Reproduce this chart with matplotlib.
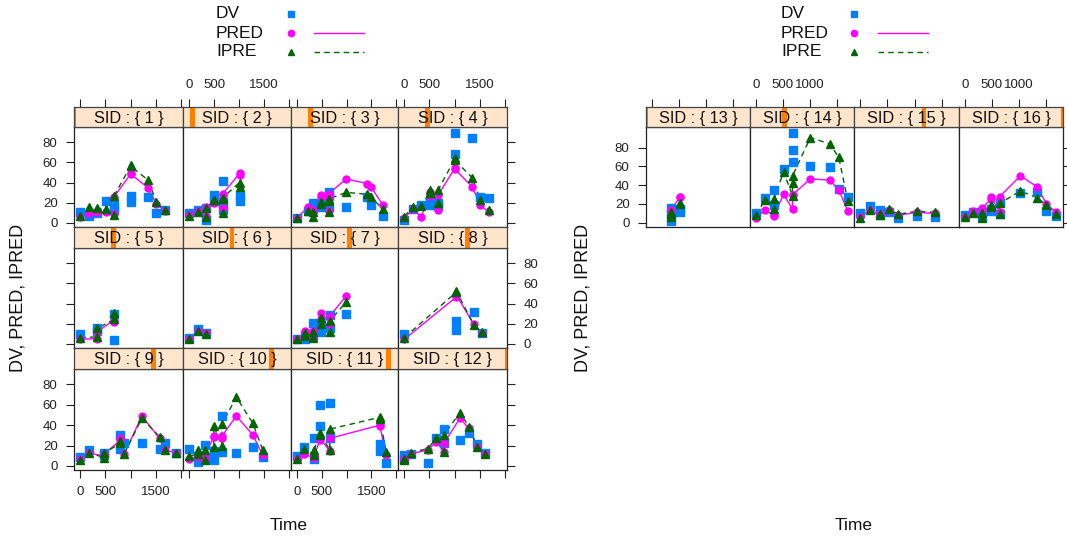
import matplotlib
matplotlib.use("Agg")
import matplotlib.pyplot as plt
from matplotlib.patches import Rectangle

plt.rcParams['font.family'] = ['Liberation Sans', 'DejaVu Sans']

W, H = 1067, 537

# ---------------- data (long format, one row per observation) ----------------
SID = [
    1, 1, 1, 1, 1, 1, 1, 1, 1, 1, 1,
    2, 2, 2, 2, 2, 2, 2, 2, 2, 2, 2,
    3, 3, 3, 3, 3, 3, 3, 3, 3, 3, 3, 3, 3,
    4, 4, 4, 4, 4, 4, 4, 4, 4, 4, 4, 4,
    5, 5, 5, 5, 5,
    6, 6, 6,
    7, 7, 7, 7, 7, 7, 7, 7, 7, 7,
    8, 8, 8, 8, 8,
    9, 9, 9, 9, 9, 9, 9, 9, 9, 9, 9,
    10, 10, 10, 10, 10, 10, 10, 10, 10, 10, 10, 10,
    11, 11, 11, 11, 11, 11, 11, 11, 11, 11, 11,
    12, 12, 12, 12, 12, 12, 12, 12, 12, 12, 12,
    13, 13, 13, 13, 13,
    14, 14, 14, 14, 14, 14, 14, 14, 14, 14, 14, 14,
    15, 15, 15, 15, 15, 15, 15, 15,
    16, 16, 16, 16, 16, 16, 16, 16, 16, 16, 16, 16,
]
TIME = [
    0, 168, 336, 504, 672, 672, 1008, 1008, 1344, 1512, 1680,
    0, 168, 336, 336, 504, 504, 672, 672, 672, 1008, 1008,
    0, 227, 326, 326, 492, 492, 637, 637, 637, 990, 1422, 1488, 1733,
    0, 168, 336, 504, 504, 672, 672, 1008, 1008, 1344, 1512, 1680,
    0, 336, 336, 672, 672,
    0, 168, 336,
    0, 160, 160, 326, 326, 492, 492, 660, 660, 990,
    0, 1036, 1036, 1383, 1548,
    0, 168, 480, 480, 790, 790, 870, 1223, 1574, 1687, 1900,
    0, 167, 167, 313, 313, 492, 492, 657, 657, 944, 1275, 1474,
    0, 139, 339, 339, 458, 458, 657, 657, 1673, 1673, 1800,
    0, 0, 133, 466, 637, 785, 785, 1104, 1283, 1448, 1594,
    357, 357, 357, 512, 512,
    0, 172, 339, 339, 512, 678, 678, 678, 1006, 1363, 1530, 1697,
    0, 178, 363, 363, 530, 703, 1043, 1376,
    0, 160, 326, 326, 481, 481, 641, 641, 1024, 1333, 1505, 1685,
]
DV = [
    10.5, 6.6, 9.5, 21.7, 18, 13, 27, 21, 25.4, 10, 12.8,
    9.5, 12.8, 14.5, 3, 27.7, 22, 13, 21, 42, 27, 22,
    5.3, 12, 19.4, 14, 16, 19, 16, 27, 31, 16, 26, 17.8, 7.2,
    3, 13.8, 17.8, 20, 18, 17, 20, 89.5, 67.8, 84.3, 26, 25,
    9.5, 15.5, 13, 3.6, 29.3,
    6, 14.5, 10.5,
    4.6, 5.3, 9, 8, 21, 12, 19, 16, 28.3, 29.3,
    9.5, 23, 14, 31.6, 10.5,
    8.9, 15.5, 12.8, 11, 17, 30, 22.7, 22.7, 17, 22, 12.8,
    17, 10, 4, 8, 20.4, 6, 15, 13.8, 49, 12.8, 18.8, 8.9,
    9.5, 18.8, 6.3, 27, 39.5, 60, 27, 61.6, 21, 15, 3,
    10.5, 7, 12, 3, 27, 22, 36, 25.4, 32, 21, 12.8,
    1.8, 9, 15.3, 11, 15,
    10, 26.7, 19, 35, 57, 65, 77, 96, 60.8, 59.7, 35.6, 27.7,
    10, 18, 8, 13.5, 11, 5.3, 7.5, 6.4,
    8.2, 11, 6, 11, 12.4, 15, 9, 20.6, 31.3, 33, 12.4, 7.5,
]
PRED = [
    5.6, 10, 11, 10.5, 8.5, 26, 49, 48, 35, 18.8, 11.9,
    8, 12, 7, 16, 20, 21, 14.5, 28, 29, 49, 47,
    5.3, 16, 11, 12.8, 26, 28, 12, 26, 29, 43.5, 39, 36, 17.8,
    4.6, 13.8, 6.3, 27, 31, 12.8, 27.7, 54.6, 53, 36, 17.8, 10.5,
    4.6, 5.3, 12, 24, 21.7,
    5, 12.8, 10.5,
    4.6, 10, 12.8, 7.9, 12.8, 25, 31, 20, 27.7, 47.4,
    4.6, 46.7, 48, 19.4, 10.5,
    6.3, 12.8, 9.5, 12, 25, 27, 11.5, 49, 27, 15.5, 12.8,
    7, 9, 11, 5.6, 11, 28, 29.3, 27, 29.3, 49, 30.3, 10.5,
    7.2, 11.5, 8, 9.5, 25, 27, 14.8, 27, 40, 39, 10.5,
    6.3, 6, 12, 15.5, 23.7, 13.8, 22, 46.7, 36.8, 18.8, 12,
    8, 10, 13.5, 27, 27.7,
    5.3, 13.5, 7.5, 8, 30.2, 14.6, 29.5, 30, 46.6, 45.5, 34.8, 12.4,
    6, 13.5, 9, 9.5, 14, 8.2, 11, 10,
    6.4, 12.4, 12, 16, 25, 27.7, 12, 27.7, 50, 38.4, 20, 11,
]
IPRE = [
    7.2, 16, 15, 13.5, 8, 27, 57, 56, 42.5, 21, 12.8,
    7.2, 11, 6, 14.5, 22.4, 23, 9.5, 24, 25, 40, 36,
    4.6, 12, 6.3, 10.5, 19, 21, 10.5, 22, 23.7, 30.3, 28.3, 26, 13.8,
    6.3, 16, 17, 30, 32.6, 19.4, 32.6, 63.9, 62, 45, 22.7, 12.8,
    6.3, 7, 15.5, 24.4, 31,
    5.3, 12.8, 9.5,
    4.6, 8, 11, 6, 12, 20, 26, 12, 22.7, 41.5,
    6.3, 51.4, 52, 18.8, 11.9,
    5.6, 12.8, 8.2, 12.8, 22, 24.7, 11.5, 46.7, 28.6, 15.5, 12.8,
    9.5, 11.5, 16, 5.6, 16, 18.8, 39, 19.4, 41, 67.5, 41.8, 15.5,
    7.2, 17, 10.5, 16, 30, 32, 16, 36, 47.7, 46, 13.8,
    6.3, 6, 13, 17, 27, 13.8, 30, 52.3, 38.5, 18.8, 12,
    6.4, 9, 11, 20.6, 20,
    8.2, 24.2, 14.6, 25, 54.4, 29, 42, 50, 90.7, 84, 69.7, 23,
    5.3, 13.5, 8, 9, 14.6, 9, 12.4, 11,
    6.4, 10, 4.6, 10, 17, 18.8, 9, 20.6, 33.8, 26.7, 18.8, 9,
]

SERIES = ['DV', 'PRED', 'IPRE']
YLABEL = 'DV, PRED, IPRED'
XLABEL = 'Time'
PAGE1_SIDS = [1, 2, 3, 4, 5, 6, 7, 8, 9, 10, 11, 12]
PAGE2_SIDS = [13, 14, 15, 16]
PAGE1_XTICKS = [0, 500, 1000, 1500, 2000]
PAGE1_XLABELS = ['0', '500', '', '1500', '']
PAGE2_XTICKS = [0, 500, 1000, 1500]
PAGE2_XLABELS = ['0', '500', '1000', '']
YTICKS = [0, 20, 40, 60, 80]

# ---------------- styles ----------------
C_DV = '#0080FF'
C_PRED = '#FF00FF'
C_IPRE = '#006400'
STRIP_BG = '#FFE5CC'
STRIP_BAR = '#FF7F00'
TICKFS = 9.5
TL = 5.8      # tick length (pt)
TP = 6.0      # tick pad (pt)

fig = plt.figure(figsize=(W / 100, H / 100), dpi=100)


def px_axes(x0, y0, x1, y1):
    return fig.add_axes([x0 / W, 1 - y1 / H, (x1 - x0) / W, (y1 - y0) / H])


def subject(sid):
    idx = [i for i, s in enumerate(SID) if s == sid]
    return ([TIME[i] for i in idx], [DV[i] for i in idx],
            [PRED[i] for i in idx], [IPRE[i] for i in idx])


def draw_page(sids, cols, rows, xlim, ylim, xticks, xlabels, bottom_axis):
    n = len(sids)
    last_row = (n - 1) // 4
    for i, sid in enumerate(sids):
        r, c = divmod(i, 4)
        sy0, sy1, py1 = rows[r]
        x0, x1 = cols[c], cols[c + 1]
        # ---- panel ----
        ax = px_axes(x0, sy1, x1, py1)
        t, dv, pr, ip = subject(sid)
        ax.plot(t, pr, color=C_PRED, lw=1.0, zorder=2)
        ax.plot(t, ip, color=C_IPRE, lw=1.0, ls=(0, (4, 3)), zorder=2)
        ax.plot(t, dv, ls='none', marker='s', ms=5.4, color=C_DV, mec=C_DV, zorder=3)
        ax.plot(t, pr, ls='none', marker='o', ms=5.0, color=C_PRED, mec=C_PRED, zorder=4)
        ax.plot(t, ip, ls='none', marker='^', ms=6.0, color=C_IPRE, mec=C_IPRE, zorder=5)
        ax.set_xlim(*xlim)
        ax.set_ylim(*ylim)
        ax.set_xticks(xticks)
        ax.set_xticklabels(xlabels)
        ax.set_yticks(YTICKS)
        ax.set_yticklabels([str(v) for v in YTICKS])
        for sp in ax.spines.values():
            sp.set_linewidth(0.9)
            sp.set_color('#222222')
        ax.tick_params(axis='both', which='both', direction='out', length=TL,
                       width=0.8, pad=TP, labelsize=TICKFS, colors='#222222',
                       bottom=False, top=False, left=False, right=False,
                       labelbottom=False, labeltop=False,
                       labelleft=False, labelright=False)
        if bottom_axis and r == last_row:
            ax.tick_params(axis='x', bottom=True, labelbottom=(c % 2 == 0))
        if c == 0:
            ax.tick_params(axis='y', left=True, labelleft=(r % 2 == 0))
        if c == 3:
            ax.tick_params(axis='y', right=True, labelright=(r % 2 == 1))
        # ---- strip ----
        sax = px_axes(x0, sy0, x1, sy1)
        sax.set_facecolor(STRIP_BG)
        sax.set_xlim(*xlim)
        sax.set_ylim(0, 1)
        frac = i / (n - 1)
        bw = 4.8 / (x1 - x0)
        sax.add_patch(Rectangle((frac - bw / 2, 0), bw, 1, transform=sax.transAxes,
                                color=STRIP_BAR, lw=0, clip_on=True, zorder=1))
        sax.text(0.5, 0.45, 'SID : { %d }' % sid, transform=sax.transAxes,
                 ha='center', va='center', fontsize=11.8, color='#111111', zorder=3)
        for sp in sax.spines.values():
            sp.set_linewidth(0.9)
            sp.set_color('#444444')
        sax.set_yticks([])
        sax.set_xticks(xticks)
        sax.set_xticklabels(xlabels)
        sax.tick_params(axis='x', direction='out', length=TL, width=0.8, pad=TP,
                        labelsize=TICKFS, colors='#222222', bottom=False,
                        labelbottom=False, top=(r == 0), labeltop=(r == 0 and c % 2 == 1))


# left page
draw_page(PAGE1_SIDS, [74, 183, 291, 398, 507],
          [(107, 127, 227), (227, 248, 348), (348, 369, 470)],
          (-125, 2040), (-4, 95), PAGE1_XTICKS, PAGE1_XLABELS, True)
# right page
draw_page(PAGE2_SIDS, [646, 750, 854, 959, 1063],
          [(107, 127, 227)],
          (-105, 1810), (-4.5, 102), PAGE2_XTICKS, PAGE2_XLABELS, False)

# ---------------- overlay: legends & axis titles ----------------
ov = fig.add_axes([0, 0, 1, 1], zorder=-1)
ov.set_xlim(0, W)
ov.set_ylim(H, 0)
ov.axis('off')

for tx, mx, lx0, lx1 in [(216, 291, 314, 364), (781, 854, 878, 928)]:
    ys = [14, 33, 52]
    for lab, y in zip(SERIES, ys):
        ov.text(tx, y, lab, fontsize=12.5, ha='left', va='center', color='#111111')
    ov.plot([mx], [ys[0]], marker='s', ms=4.2, color=C_DV, ls='none')
    ov.plot([mx], [ys[1]], marker='o', ms=4.5, color=C_PRED, ls='none')
    ov.plot([mx], [ys[2]], marker='^', ms=5.0, color=C_IPRE, ls='none')
    ov.plot([lx0, lx1], [ys[1], ys[1]], color=C_PRED, lw=1.0)
    ov.plot([lx0, lx1], [ys[2], ys[2]], color=C_IPRE, lw=1.0, ls=(0, (4, 3)))

ov.text(18, 298, YLABEL, rotation=90, fontsize=13, ha='center', va='center', color='#111111')
ov.text(583, 298, YLABEL, rotation=90, fontsize=13, ha='center', va='center', color='#111111')
ov.text(289, 525, XLABEL, fontsize=12.5, ha='center', va='center', color='#111111')
ov.text(854, 525, XLABEL, fontsize=12.5, ha='center', va='center', color='#111111')

fig.savefig('out.png', dpi=100)
